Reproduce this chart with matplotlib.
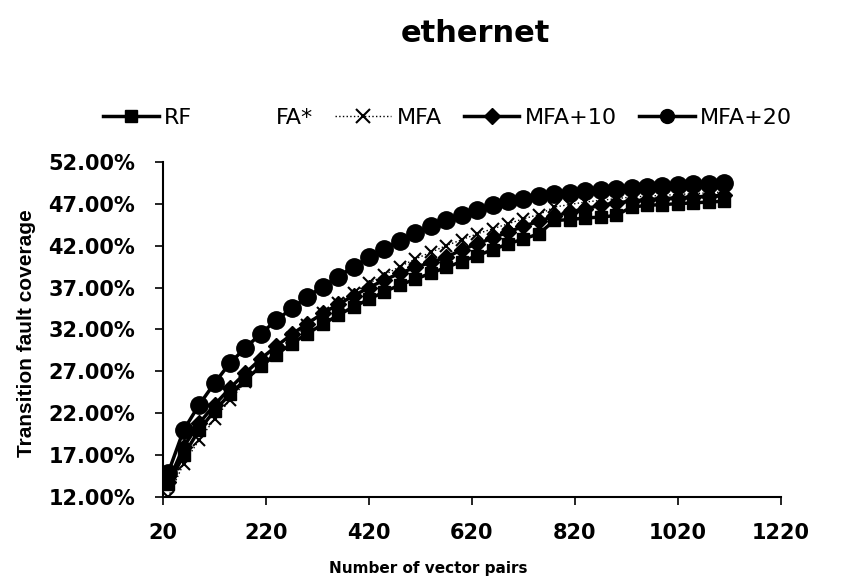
import numpy as np
import matplotlib
matplotlib.use("Agg")
import matplotlib.pyplot as plt
from matplotlib.lines import Line2D
from matplotlib.ticker import FuncFormatter

# ── Dados ───────────────────────────────────────────────────────────────────
pares = np.arange(30, 1111, 30)

rf = [13.5, 17.0, 20.0, 22.3, 24.3, 26.0, 27.6, 29.0, 30.3, 31.5, 32.6, 33.7,
      34.7, 35.6, 36.5, 37.3, 38.0, 38.7, 39.4, 40.1, 40.8, 41.5, 42.2, 42.8,
      43.4, 45.0, 45.1, 45.3, 45.4, 45.6, 46.6, 46.8, 46.9, 47.0, 47.1, 47.2,
      47.3]
mfa = [12.0, 16.0, 18.8, 21.3, 23.6, 25.7, 27.6, 29.4, 31.0, 32.5, 33.9, 35.2,
       36.4, 37.5, 38.5, 39.5, 40.4, 41.2, 42.0, 42.7, 43.4, 44.0, 44.6, 45.2,
       45.7, 46.6, 46.9, 47.2, 47.4, 47.6, 47.8, 47.9, 48.0, 48.1, 48.2, 48.3,
       48.4]
mfa10 = [13.8, 18.0, 20.8, 23.0, 25.0, 26.8, 28.5, 30.0, 31.4, 32.7, 33.9,
         35.0, 36.0, 37.0, 37.9, 38.7, 39.4, 40.0, 40.6, 41.5, 42.2, 42.9, 43.6,
         44.3, 44.9, 45.5, 46.0, 46.4, 46.8, 47.1, 47.3, 47.5, 47.6, 47.7, 47.8,
         47.9, 48.0]
mfa20 = [14.9, 20.0, 23.0, 25.6, 28.0, 29.8, 31.5, 33.1, 34.5, 35.9, 37.1,
         38.3, 39.5, 40.6, 41.6, 42.6, 43.5, 44.3, 45.0, 45.7, 46.3, 46.8, 47.3,
         47.6, 47.9, 48.1, 48.3, 48.5, 48.6, 48.8, 48.9, 49.0, 49.1, 49.2, 49.3,
         49.4, 49.5]

x_ticks = [20, 220, 420, 620, 820, 1020, 1220]
y_ticks = [12, 17, 22, 27, 32, 37, 42, 47, 52]

plt.rcParams["font.family"] = ["DejaVu Sans"]

# ── Figura ──────────────────────────────────────────────────────────────────
fig = plt.figure(figsize=(8.45, 5.82), dpi=100)
ax = fig.add_axes([0.193, 0.146, 0.731, 0.576])

ax.plot(pares, rf, color="black", lw=2.5, marker="s", ms=8.5)
ax.plot(pares, mfa10, color="black", lw=2.5, marker="D", ms=8.5)
ax.plot(pares, mfa, color="black", lw=1.0, ls=":", marker="x", ms=9, mew=1.5)
ax.plot(pares, mfa20, color="black", lw=2.5, marker="o", ms=12.5)

ax.set_xlim(20, 1220)
ax.set_ylim(12, 52)
ax.set_xticks(x_ticks)
ax.set_yticks(y_ticks)
ax.yaxis.set_major_formatter(FuncFormatter(lambda v, p: f"{v:.2f}%"))
ax.tick_params(axis="x", direction="out", length=6, width=1.2,
               labelsize=15, pad=13)
ax.tick_params(axis="y", direction="out", length=6, width=1.2,
               labelsize=15, pad=14)
for lbl in ax.get_xticklabels() + ax.get_yticklabels():
    lbl.set_fontweight("bold")

for lado in ["top", "right"]:
    ax.spines[lado].set_visible(False)
for lado in ["left", "bottom"]:
    ax.spines[lado].set_linewidth(1.5)

ax.set_xlabel("Number of vector pairs", fontsize=11, fontweight="bold")
ax.xaxis.set_label_coords(0.43, -0.19)
ax.set_ylabel("Transition fault coverage", fontsize=15, fontweight="bold",
              family=["Liberation Sans"])
ax.yaxis.set_label_coords(-0.205, 0.49)

fig.suptitle("ethernet", fontsize=22, fontweight="bold", x=0.563, y=0.968)

# Legenda (FA* aparece sem traço visível no original)
handles = [
    Line2D([], [], color="black", lw=2.5, marker="s", ms=9),
    Line2D([], [], color="none"),
    Line2D([], [], color="black", lw=1.0, ls=":", marker="x", ms=10, mew=1.5),
    Line2D([], [], color="black", lw=2.5, marker="D", ms=8),
    Line2D([], [], color="black", lw=2.5, marker="o", ms=10),
]
fig.legend(handles, ["RF", "FA*", "MFA", "MFA+10", "MFA+20"], ncol=5,
           loc="center", bbox_to_anchor=(0.53, 0.797), frameon=False,
           fontsize=16, handlelength=2.5, handletextpad=0.25,
           columnspacing=1.0)

fig.savefig("out.png", dpi=100)
